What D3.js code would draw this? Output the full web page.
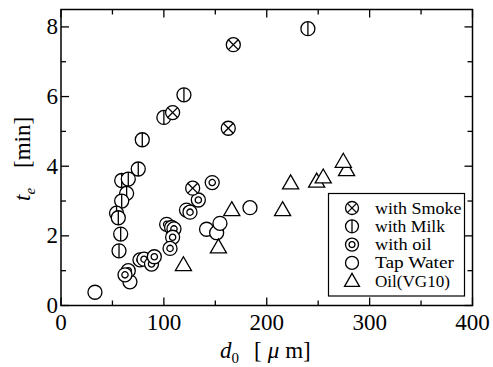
<!DOCTYPE html>
<html><head><meta charset="utf-8">
<script src="https://cdn.jsdelivr.net/npm/d3@7"></script>
<style>body{margin:0;background:#fff}svg{display:block}</style>
</head><body><svg id="c" width="493" height="367"></svg>
<script>
const seriesNames = ["with Smoke","with Milk","with oil","Tap Water","Oil(VG10)"];
const smokeD = [167.5, 162.6, 108.5, 128];
const smokeT = [7.49, 5.09, 5.54, 3.37];
const milkD = [240, 119.5, 100, 79, 75.1, 59, 65.4, 63.8, 59, 54, 55.7, 58, 56.4];
const milkT = [7.95, 6.05, 5.40, 4.76, 3.92, 3.59, 3.63, 3.22, 3.0, 2.65, 2.52, 2.05, 1.57];
const oilD = [147, 133.5, 122, 125.4, 102.7, 107.5, 109.8, 108.5, 106, 76.8, 80.7, 88, 90.7, 65.4, 62.2];
const oilT = [3.53, 3.03, 2.74, 2.68, 2.33, 2.24, 2.2, 1.96, 1.64, 1.31, 1.33, 1.19, 1.40, 1.0, 0.88];
const tapD = [33, 67, 141.5, 151.3, 154.5, 183.7];
const tapT = [0.38, 0.68, 2.19, 2.09, 2.36, 2.81];
const vgD = [119, 153, 166, 215.4, 223.2, 248.5, 254.9, 277.6, 274.4];
const vgT = [1.16, 1.67, 2.74, 2.74, 3.51, 3.56, 3.68, 3.89, 4.13];
const xTicks = [0, 100, 200, 300, 400];
const yTicks = [0, 2, 4, 6, 8];

const FONT = '"Liberation Serif"';
const svg = d3.select("#c").style("font-family", FONT);
const L = 61, R = 472.5, T = 9.5, B = 305.5;
const x = d3.scaleLinear().domain([0, 400]).range([L, R]);
const y = d3.scaleLinear().domain([0, 8.5]).range([B, T]);

svg.append("rect").attr("x", L).attr("y", T).attr("width", R - L).attr("height", B - T)
  .attr("fill", "none").attr("stroke", "#000").attr("stroke-width", 1.5);

const tickG = svg.append("g").attr("stroke", "#000").attr("stroke-width", 1.3);
d3.range(0, 401, 50).forEach(v => {
  const len = v % 100 === 0 ? 8 : 5;
  tickG.append("line").attr("x1", x(v)).attr("x2", x(v)).attr("y1", B).attr("y2", B - len);
  tickG.append("line").attr("x1", x(v)).attr("x2", x(v)).attr("y1", T).attr("y2", T + len);
});
d3.range(0, 9, 1).forEach(v => {
  const len = v % 2 === 0 ? 8 : 5;
  tickG.append("line").attr("y1", y(v)).attr("y2", y(v)).attr("x1", L).attr("x2", L + len);
  tickG.append("line").attr("y1", y(v)).attr("y2", y(v)).attr("x1", R).attr("x2", R - len);
});

xTicks.forEach(v => svg.append("text").style("font-family", FONT).attr("x", x(v)).attr("y", 330).attr("text-anchor", "middle")
  .attr("font-size", 23).text(v));
yTicks.forEach(v => svg.append("text").style("font-family", FONT).attr("x", 58).attr("y", y(v) + 7.5).attr("text-anchor", "end")
  .attr("font-size", 23).text(v));

// x title
const xt = svg.append("text").style("font-family", FONT).attr("x", 220).attr("y", 358).attr("font-size", 23);
xt.append("tspan").attr("font-style", "italic").text("d");
xt.append("tspan").attr("font-size", 15).attr("dy", 5).text("0");
xt.append("tspan").attr("dy", -5).attr("dx", 15).text("[");
xt.append("tspan").attr("font-style", "italic").attr("dx", 6).text("μ");
xt.append("tspan").attr("dx", 6).text("m]");

// y title
const yt = svg.append("text").style("font-family", FONT).attr("transform", "translate(30,201) rotate(-90)").attr("font-size", 23);
yt.append("tspan").attr("font-style", "italic").text("t");
yt.append("tspan").attr("font-style", "italic").attr("font-size", 15).attr("dy", 5).text("e");
yt.append("tspan").attr("dy", -5).attr("dx", 20).text("[min]");

function drawMarker(g, type, cx, cy, r) {
  const s = g.append("g").attr("transform", `translate(${cx},${cy})`)
    .attr("fill", "none").attr("stroke", "#000").attr("stroke-width", 1.3);
  if (type === 4) {
    const h = r * 2.0, w = r * 2.3;
    s.append("path").attr("d", `M0,${-h * 0.6} L${w / 2},${h * 0.4} L${-w / 2},${h * 0.4} Z`).attr("fill", "#fff");
    return;
  }
  s.append("circle").attr("r", r).attr("fill", "#fff");
  if (type === 0) {
    const k = r * 0.7071;
    s.append("line").attr("x1", -k).attr("y1", -k).attr("x2", k).attr("y2", k);
    s.append("line").attr("x1", -k).attr("y1", k).attr("x2", k).attr("y2", -k);
  } else if (type === 1) {
    s.append("line").attr("x1", 0).attr("y1", -r).attr("x2", 0).attr("y2", r);
  } else if (type === 2) {
    s.append("circle").attr("r", r * 0.45);
  }
}

const series = [[smokeD, smokeT], [milkD, milkT], [oilD, oilT], [tapD, tapT], [vgD, vgT]];
const pg = svg.append("g");
[3, 4, 2, 1, 0].forEach(si => {
  const [ds, ts] = series[si];
  ds.forEach((d, i) => drawMarker(pg, si, x(d), y(ts[i]), 7));
});

const lg = svg.append("g");
lg.append("rect").attr("x", 328.5).attr("y", 193.5).attr("width", 136).attr("height", 102.5)
  .attr("fill", "#fff").attr("stroke", "#000").attr("stroke-width", 1.2);
const rowY = [208, 226.3, 244.6, 262.9, 281.2];
const legW = [86.5, 70, 56.5, 79, 75];
seriesNames.forEach((n, i) => {
  drawMarker(lg, i, 352, rowY[i], 6.5);
  lg.append("text").style("font-family", FONT).attr("x", 375).attr("y", rowY[i] + 5.5)
    .attr("font-size", 16.5).attr("textLength", legW[i]).attr("lengthAdjust", "spacingAndGlyphs").text(n);
});
</script></body></html>
